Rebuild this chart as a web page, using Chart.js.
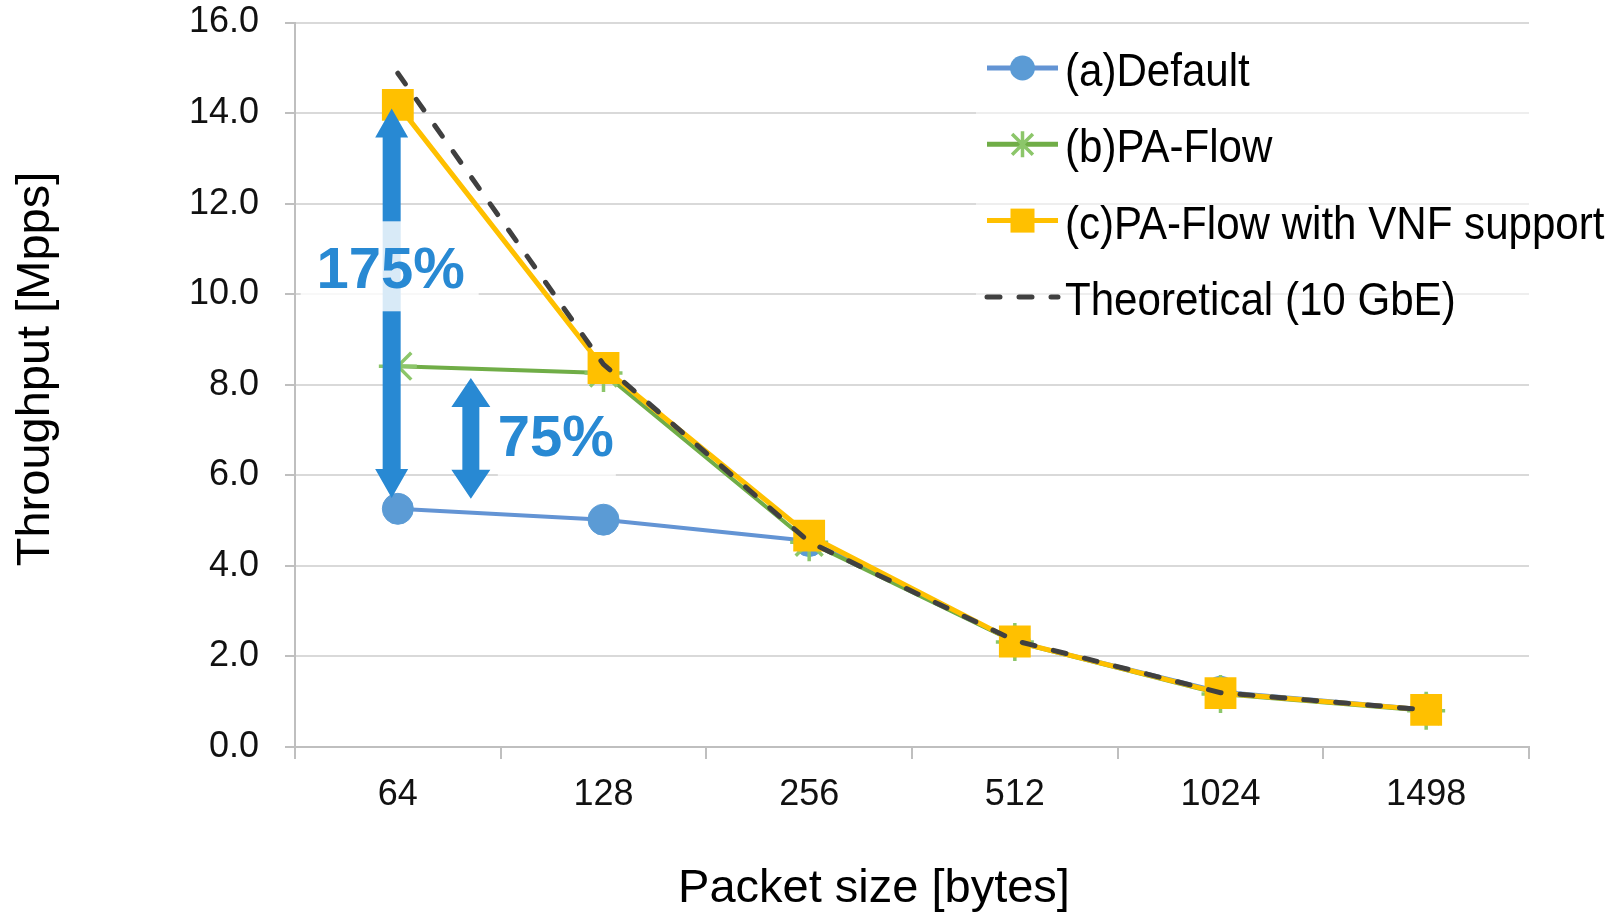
<!DOCTYPE html>
<html>
<head>
<meta charset="utf-8">
<script src="https://cdn.jsdelivr.net/npm/chart.js@4.4.0/dist/chart.umd.min.js"></script>
<style>
  html, body { margin: 0; padding: 0; background: #fff; }
  #wrap { width: 1622px; height: 912px; position: relative; }
</style>
</head>
<body>
<div id="wrap"><canvas id="chart"></canvas></div>
<script>
const FONT = "'Liberation Sans', Arial, sans-serif";

const packetSizes = ['64', '128', '256', '512', '1024', '1498'];
const yTicks = [0, 2, 4, 6, 8, 10, 12, 14, 16];

const defaultMpps = [5.26, 5.02, 4.55, 2.33, 1.22, 0.83];
const paFlowMpps = [8.41, 8.26, 4.52, 2.32, 1.17, 0.8];
const vnfMpps = [14.18, 8.37, 4.67, 2.33, 1.19, 0.82];
const theoreticalMpps = [14.88, 8.45, 4.53, 2.35, 1.2, 0.82];

const seriesNames = ['(a)Default', '(b)PA-Flow', '(c)PA-Flow with VNF support', 'Theoretical (10 GbE)'];

// improvement arrows at 64 bytes
const gainLow = [5.5, 5.48];
const gainHigh = [14.1, 8.15];
const gainLabels = ['175%', '75%'];

const yTitle = 'Throughput [Mpps]';
const xTitle = 'Packet size [bytes]';

const BLUE = '#2889d3';

function marker(ctx, style, x, y, r, fill, stroke) {
  ctx.save();
  ctx.fillStyle = fill;
  ctx.strokeStyle = stroke;
  if (style === 'circle') {
    ctx.beginPath();
    ctx.arc(x, y, r, 0, Math.PI * 2);
    ctx.fill();
  } else if (style === 'rect') {
    ctx.fillRect(x - r, y - r, 2 * r, 2 * r);
  } else if (style === 'star') {
    ctx.lineWidth = 3.5;
    ctx.beginPath();
    ctx.moveTo(x, y - r); ctx.lineTo(x, y + r);
    const d = r * 0.8;
    ctx.moveTo(x - d, y - d); ctx.lineTo(x + d, y + d);
    ctx.moveTo(x - d, y + d); ctx.lineTo(x + d, y - d);
    ctx.stroke();
  }
  ctx.restore();
}

// double-headed arrows with their labels
const gainPlugin = {
  id: 'gains',
  afterDatasetsDraw(chart, args, opts) {
    const { ctx, scales: { x, y } } = chart;
    ctx.save();
    gainLow.forEach((lo, i) => {
      const px = x.getPixelForValue(opts.at[i]);
      const top = y.getPixelForValue(gainHigh[i]);
      const bot = y.getPixelForValue(lo);
      const sw = opts.shaft[i] / 2, hw = opts.head[i] / 2, hl = opts.headLen;
      ctx.fillStyle = BLUE;
      ctx.beginPath();
      ctx.moveTo(px, top);
      ctx.lineTo(px + hw, top + hl);
      ctx.lineTo(px + sw, top + hl);
      ctx.lineTo(px + sw, bot - hl);
      ctx.lineTo(px + hw, bot - hl);
      ctx.lineTo(px, bot);
      ctx.lineTo(px - hw, bot - hl);
      ctx.lineTo(px - sw, bot - hl);
      ctx.lineTo(px - sw, top + hl);
      ctx.lineTo(px - hw, top + hl);
      ctx.closePath();
      ctx.fill();
    });
    gainLabels.forEach((txt, i) => {
      const cx = x.getPixelForValue(opts.at[i]) + opts.labelDx[i];
      const base = y.getPixelForValue(opts.labelAt[i]);
      const b = opts.box[i];
      ctx.fillStyle = 'rgba(255,255,255,0.82)';
      ctx.fillRect(cx + b[0], base + b[1], b[2] - b[0], b[3] - b[1]);
      ctx.fillStyle = BLUE;
      ctx.font = 'bold 58px ' + FONT;
      ctx.textAlign = 'center';
      ctx.textBaseline = 'alphabetic';
      ctx.fillText(txt, cx, base);
    });
    ctx.restore();
  }
};

// legend drawn inside the plot, Excel style
const legendPlugin = {
  id: 'sideLegend',
  afterDraw(chart, args, opts) {
    const { ctx } = chart;
    ctx.save();
    ctx.fillStyle = 'rgba(255,255,255,0.55)';
    ctx.fillRect(opts.boxX, opts.boxY, chart.chartArea.right - opts.boxX, opts.boxH);
    chart.data.datasets.forEach((ds, i) => {
      const yy = opts.y0 + i * opts.step;
      ctx.save();
      ctx.strokeStyle = ds.borderColor;
      ctx.lineWidth = 5;
      ctx.lineCap = ds.borderDash ? 'round' : 'butt';
      ctx.setLineDash(ds.borderDash || []);
      ctx.beginPath();
      ctx.moveTo(opts.lineX0, yy);
      ctx.lineTo(opts.lineX1, yy);
      ctx.stroke();
      ctx.restore();
      if (ds.pointRadius > 0) {
        marker(ctx, ds.pointStyle, (opts.lineX0 + opts.lineX1) / 2, yy, opts.markR[i], ds.pointBackgroundColor, ds.pointBorderColor);
      }
      ctx.save();
      ctx.translate(opts.textX, yy + 18);
      ctx.scale(0.915, 1);
      ctx.fillStyle = '#000';
      ctx.font = '46px ' + FONT;
      ctx.textAlign = 'left';
      ctx.textBaseline = 'alphabetic';
      ctx.fillText(ds.label, 0, 0);
      ctx.restore();
    });
    ctx.restore();
  }
};

// axis titles placed where the original has them
const titlePlugin = {
  id: 'axisTitles',
  afterDraw(chart, args, opts) {
    const { ctx } = chart;
    ctx.save();
    ctx.fillStyle = '#000';
    ctx.font = '47px ' + FONT;
    ctx.textAlign = 'center';
    ctx.textBaseline = 'alphabetic';
    ctx.fillText(xTitle, opts.xTitleX, opts.xTitleBase);
    ctx.translate(opts.yTitleBase, opts.yTitleY);
    ctx.rotate(-Math.PI / 2);
    ctx.fillText(yTitle, 0, 0);
    ctx.restore();
  }
};

new Chart(document.getElementById('chart'), {
  type: 'line',
  data: {
    labels: packetSizes,
    datasets: [
      {
        label: seriesNames[0],
        data: defaultMpps,
        borderColor: '#6394d4',
        borderWidth: 4,
        pointStyle: 'circle',
        pointRadius: 15.5,
        pointBackgroundColor: '#5b9bd5',
        pointBorderColor: '#5b9bd5',
        pointBorderWidth: 1,
        tension: 0,
        order: 4,
      },
      {
        label: seriesNames[1],
        data: paFlowMpps,
        borderColor: '#70ad47',
        borderWidth: 4,
        pointStyle: 'star',
        pointRadius: 19,
        pointBackgroundColor: '#8cc66a',
        pointBorderColor: '#8cc66a',
        pointBorderWidth: 3.5,
        tension: 0,
        order: 3,
      },
      {
        label: seriesNames[2],
        data: vnfMpps,
        borderColor: '#ffc000',
        borderWidth: 5,
        pointStyle: 'rect',
        pointRadius: 22.5,
        pointBackgroundColor: '#ffc000',
        pointBorderColor: '#ffc000',
        pointBorderWidth: 0,
        tension: 0,
        order: 2,
      },
      {
        label: seriesNames[3],
        data: theoreticalMpps,
        borderColor: '#404040',
        borderWidth: 5,
        borderDash: [13, 19],
        borderCapStyle: 'round',
        pointRadius: 0,
        tension: 0,
        order: 1,
      },
    ],
  },
  options: {
    responsive: true,
    maintainAspectRatio: false,
    animation: false,
    layout: { padding: { left: 0, right: 93, top: 0, bottom: 0 } },
    scales: {
      x: {
        offset: true,
        grid: {
          display: true,
          drawOnChartArea: false,
          drawTicks: true,
          tickLength: 12,
          offset: true,
          color: '#bfbfbf',
          lineWidth: 2,
        },
        border: { color: '#bfbfbf', width: 2 },
        ticks: {
          color: '#111',
          font: { family: FONT, size: 36 },
          padding: 14,
          maxRotation: 0,
        },
        afterFit: (s) => { s.height = 165; },
      },
      y: {
        min: 0,
        max: 16,
        afterBuildTicks: (s) => { s.ticks = yTicks.map(v => ({ value: v })); },
        grid: { color: '#d9d9d9', lineWidth: 2, tickLength: 10, tickColor: '#bfbfbf' },
        border: { color: '#bfbfbf', width: 2 },
        ticks: {
          color: '#111',
          font: { family: FONT, size: 36 },
          padding: 26,
          callback: (v) => v.toFixed(1),
        },
        afterFit: (s) => { s.width = 295; s.paddingTop = 16; s.paddingBottom = 16; },
      },
    },
    plugins: {
      legend: { display: false },
      tooltip: { enabled: false },
      gains: {
        at: [-0.03, 0.355],
        shaft: [18, 17],
        head: [33, 39],
        headLen: 29,
        labelDx: [-1, 85],
        labelAt: [10.13, 6.43],
        box: [[-90, -67, 88, 23], [-58, -55, 60, 20]],
      },
      sideLegend: {
        boxX: 976, boxY: 30, boxH: 300,
        lineX0: 987, lineX1: 1058, textX: 1065,
        y0: 68, step: 76.3,
        markR: [12.5, 13, 12, 0],
      },
      axisTitles: {
        xTitleX: 874, xTitleBase: 902,
        yTitleBase: 49, yTitleY: 369,
      },
    },
  },
  plugins: [gainPlugin, legendPlugin, titlePlugin],
});
</script>
</body>
</html>
